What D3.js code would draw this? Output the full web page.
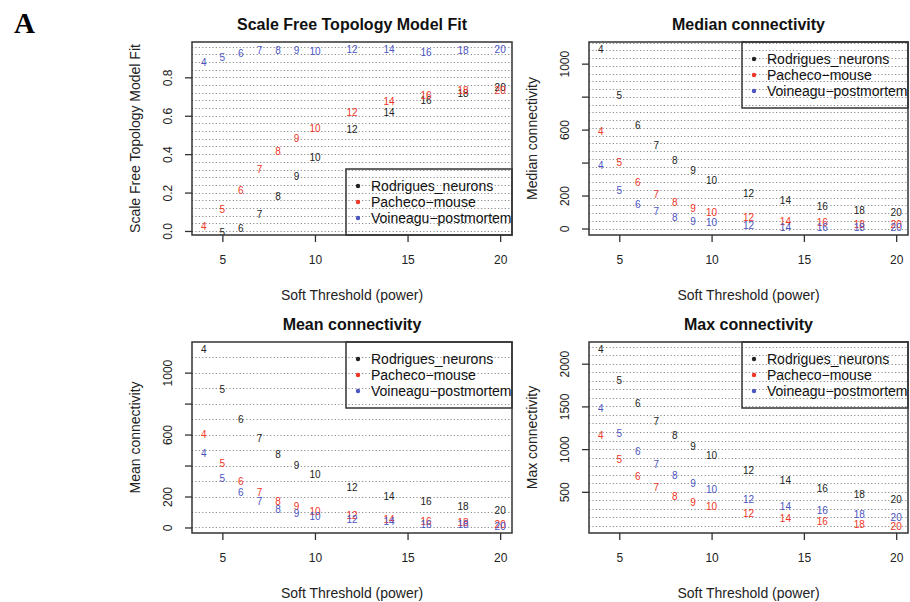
<!DOCTYPE html>
<html>
<head>
<meta charset="utf-8">
<script src="https://cdn.jsdelivr.net/npm/d3@7"></script>
<style>
  body { margin: 0; background: #fff; }
  svg { display: block; }
  text { font-family: "Liberation Sans", Arial, sans-serif; }
</style>
</head>
<body>
<svg id="chart" width="910" height="602"></svg>
<script>

// soft-threshold powers (x values, also used as the point labels)
var powers = [4, 5, 6, 7, 8, 9, 10, 12, 14, 16, 18, 20];
var xTicks = [5, 10, 15, 20];

var seriesNames = ["Rodrigues_neurons", "Pacheco\u2212mouse", "Voineagu\u2212postmortem"];
var seriesColors = ["#222222", "#ee3526", "#4b55c2"];

// scale free topology model fit (signed R^2)
var fitRodrigues = [-0.08, -0.01, 0.015, 0.088, 0.18, 0.284, 0.385, 0.527, 0.615, 0.678, 0.718, 0.745];
var fitPacheco   = [0.022, 0.114, 0.209, 0.318, 0.416, 0.484, 0.536, 0.618, 0.676, 0.708, 0.73, 0.73];
var fitVoineagu  = [0.877, 0.906, 0.925, 0.938, 0.938, 0.938, 0.937, 0.943, 0.943, 0.93, 0.94, 0.945];

// median connectivity
var medRodrigues = [1088, 810, 628, 506, 415, 350, 294, 216, 168, 136, 111, 95];
var medPacheco   = [587, 399, 281, 209, 158, 122, 97, 67, 46, 40, 24, 24];
var medVoineagu  = [381, 233, 148, 101, 67, 46, 36, 20, 8, 7, 6, 4];

// mean connectivity
var meanRodrigues = [1152, 889, 700, 572, 471, 400, 343, 257, 203, 167, 139, 113];
var meanPacheco   = [600, 413, 298, 225, 171, 135, 107, 75, 53, 42, 32, 20];
var meanVoineagu  = [478, 317, 225, 167, 118, 90, 73, 49, 36, 22, 18, 10];

// max connectivity
var maxRodrigues = [2171, 1803, 1532, 1319, 1165, 1029, 921, 751, 631, 542, 469, 411];
var maxPacheco   = [1165, 875, 681, 553, 449, 379, 326, 245, 187, 152, 121, 101];
var maxVoineagu  = [1481, 1184, 968, 820, 697, 604, 527, 411, 333, 280, 233, 202];

// y axis ticks and which of them carry a label
var fitTicks = [0, 0.2, 0.4, 0.6, 0.8];
var fitTickLabels = ["0.0", "0.2", "0.4", "0.6", "0.8"];
var connTicks = [0, 200, 400, 600, 800, 1000];
var connTickLabels = ["0", "200", "", "600", "", "1000"];
var maxTicks = [500, 1000, 1500, 2000];
var maxTickLabels = ["500", "1000", "1500", "2000"];

var svg = d3.select("#chart");

// R style axis range: data extent padded 4% each side
var rRange = function(arrs) {
    var all = d3.merge(arrs);
    var ext = d3.extent(all);
    var pad = (ext[1] - ext[0]) * 0.04;
    return [ext[0] - pad, ext[1] + pad];
};

var xDomain = rRange([powers]);

var panels = [
    { id: "p1", left: 192, top: 42, w: 320, h: 193,
      title: "Scale Free Topology Model Fit", ylab: "Scale Free Topology Model Fit",
      series: [fitRodrigues, fitPacheco, fitVoineagu],
      domain: [-0.021, 0.984], ticks: fitTicks, tickLabels: fitTickLabels,
      grid: 0.04, legend: "bottomright" },
    { id: "p2", left: 589, top: 42, w: 319, h: 193,
      title: "Median connectivity", ylab: "Median connectivity",
      series: [medRodrigues, medPacheco, medVoineagu],
      domain: null, ticks: connTicks, tickLabels: connTickLabels,
      grid: 47, legend: "topright" },
    { id: "p3", left: 192, top: 342, w: 320, h: 191,
      title: "Mean connectivity", ylab: "Mean connectivity",
      series: [meanRodrigues, meanPacheco, meanVoineagu],
      domain: null, ticks: connTicks, tickLabels: connTickLabels,
      grid: 100, legend: "topright" },
    { id: "p4", left: 589, top: 342, w: 319, h: 191,
      title: "Max connectivity", ylab: "Max connectivity",
      series: [maxRodrigues, maxPacheco, maxVoineagu],
      domain: null, ticks: maxTicks, tickLabels: maxTickLabels,
      grid: 100, legend: "topright" }
];

var drawPanel = function(p) {
    var g = svg.append("g").attr("transform", "translate(" + p.left + "," + p.top + ")");
    var xs = d3.scaleLinear().domain(xDomain).range([0, p.w]);
    var ys = d3.scaleLinear().domain(p.domain || rRange(p.series)).range([p.h, 0]);
    var yd = ys.domain();

    g.append("clipPath").attr("id", "clip-" + p.id)
        .append("rect").attr("width", p.w).attr("height", p.h);

    // dotted horizontal grid
    var first = Math.ceil(yd[0] / p.grid) * p.grid;
    var gridVals = d3.range(first, yd[1], p.grid);
    g.selectAll(".grid").data(gridVals).enter()
        .append("line")
        .attr("x1", 0).attr("x2", p.w)
        .attr("y1", function(d) { return Math.round(ys(d)) + 0.5; })
        .attr("y2", function(d) { return Math.round(ys(d)) + 0.5; })
        .attr("stroke", "#8c8c8c")
        .attr("stroke-width", 1)
        .attr("stroke-dasharray", "1.2,2.2");

    // power labels as the points
    var marks = g.append("g").attr("clip-path", "url(#clip-" + p.id + ")");
    p.series.forEach(function(vals, si) {
        marks.selectAll(".s" + si)
            .data(powers.map(function(pw, i) { return { pw: pw, v: vals[i] }; }))
            .enter().append("text")
            .attr("x", function(d) { return xs(d.pw); })
            .attr("y", function(d) { return ys(d.v); })
            .attr("dy", "0.36em")
            .attr("text-anchor", "middle")
            .attr("font-size", 10)
            .attr("fill", seriesColors[si])
            .text(function(d) { return d.pw; });
    });

    // x axis
    var xa = g.append("g").attr("transform", "translate(0," + p.h + ")")
        .call(d3.axisBottom(xs).tickValues(xTicks).tickSize(7).tickPadding(13));
    xa.select(".domain").remove();
    xa.selectAll("line").attr("stroke", "#333").attr("stroke-width", 1.3);
    xa.selectAll("text").attr("font-size", 12).attr("fill", "#222")
        .attr("font-family", "Liberation Sans, Arial, sans-serif");

    // y axis with rotated labels
    var ya = g.append("g")
        .call(d3.axisLeft(ys).tickValues(p.ticks).tickSize(7)
            .tickFormat(function(d, i) { return p.tickLabels[i]; }));
    ya.select(".domain").remove();
    ya.selectAll("line").attr("stroke", "#333").attr("stroke-width", 1.3);
    ya.selectAll("text")
        .attr("x", 0).attr("dy", null)
        .attr("transform", "translate(-24,0) rotate(-90)")
        .attr("text-anchor", "middle")
        .attr("dominant-baseline", "central")
        .attr("font-size", 12).attr("fill", "#222")
        .attr("font-family", "Liberation Sans, Arial, sans-serif");

    // box
    g.append("rect").attr("width", p.w).attr("height", p.h)
        .attr("fill", "none").attr("stroke", "#333").attr("stroke-width", 1.5);

    // titles
    g.append("text").attr("x", p.w / 2).attr("y", -12.5)
        .attr("text-anchor", "middle").attr("font-size", 16).attr("font-weight", "bold")
        .attr("fill", "#111").text(p.title);
    g.append("text").attr("x", p.w / 2).attr("y", p.h + 59.5)
        .attr("text-anchor", "middle").attr("dominant-baseline", "central")
        .attr("font-size", 14).attr("fill", "#222").text("Soft Threshold (power)");
    g.append("text")
        .attr("transform", "translate(-57," + (p.h / 2) + ") rotate(-90)")
        .attr("text-anchor", "middle").attr("dominant-baseline", "central")
        .attr("font-size", 14).attr("fill", "#222").text(p.ylab);

    // legend
    var lw = 166, lh = 66;
    var lx = p.w - lw;
    var ly = p.legend == "topright" ? 0 : p.h - lh;
    var lg = g.append("g").attr("transform", "translate(" + lx + "," + ly + ")");
    lg.append("rect").attr("width", lw).attr("height", lh)
        .attr("fill", "none").attr("stroke", "#333").attr("stroke-width", 1.5);
    seriesNames.forEach(function(name, i) {
        var ry = 17 + i * 16;
        lg.append("circle").attr("cx", 12).attr("cy", ry).attr("r", 2.2)
            .attr("fill", seriesColors[i]);
        lg.append("text").attr("x", 25).attr("y", ry)
            .attr("dominant-baseline", "central")
            .attr("font-size", 14).attr("fill", "#111").text(name);
    });
};

panels.forEach(drawPanel);

// panel letter (style wins over the css rule for text)
svg.append("text").attr("x", 14).attr("y", 33)
    .style("font-family", "'Liberation Serif', 'Times New Roman', serif")
    .attr("font-weight", "bold").attr("font-size", 29).attr("fill", "#000")
    .text("A");

</script>
</body>
</html>
